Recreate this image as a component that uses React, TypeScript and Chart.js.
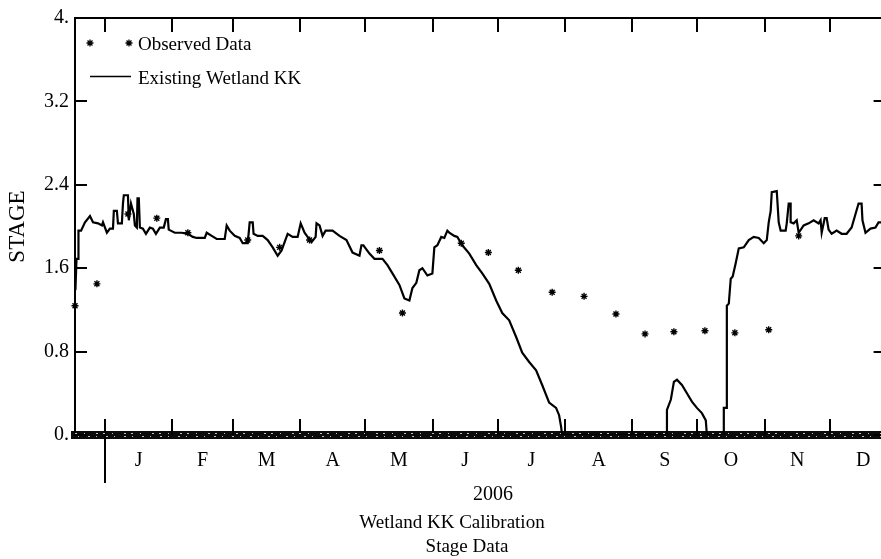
import React, { useEffect, useRef } from "react";
import { Chart, registerables } from "chart.js";

Chart.register(...registerables);

// Days counted from 1 Jan 2006 (day 0)
const LINE_DAYS = [
  -13.6, -13.1, -12.4, -12.2, -11.0, -9.2, -6.9, -5.5, -3.2, -1.4, -0.9, 0.9, 2.3, 3.7, 4.1, 5.5, 6.0, 7.8, 8.3, 8.7,
  10.6, 11.0, 12.0, 13.3, 13.8, 14.7, 15.0, 15.6, 16.1, 17.5, 18.9, 20.7, 22.1, 23.5, 25.3, 27.1, 28.1, 29.0, 29.4, 32.2,
  35.4, 38.2, 40.5, 42.3, 46.0, 46.9, 49.2, 51.5, 55.2, 56.1, 57.5, 59.8, 62.1, 63.5, 65.8, 66.7, 68.1, 68.5, 70.4, 72.7,
  75.0, 77.3, 79.6, 81.4, 82.8, 84.2, 86.5, 88.8, 90.2, 92.0, 93.4, 95.2, 97.1, 97.5, 98.9, 100.3, 101.7, 104.9, 108.1, 111.3,
  114.1, 117.3, 118.2, 119.1, 121.9, 124.2, 127.9, 130.2, 132.5, 135.7, 138.0, 140.3, 141.7, 143.5, 144.9, 146.3, 148.6, 150.9, 151.8, 153.2,
  155.0, 156.4, 157.8, 158.7, 161.0, 162.4, 164.7, 167.9, 171.1, 173.9, 177.1, 180.3, 183.1, 186.3, 189.5, 192.3, 195.5, 198.7, 201.5, 204.7,
  207.9, 209.3, 210.2, 210.7, 259.0, 259.0, 260.8, 262.2, 263.6, 265.9, 268.2, 270.5, 272.8, 275.1, 276.9, 277.4, 285.2, 285.2, 286.6, 286.6,
  287.5, 288.4, 289.3, 290.7, 292.1, 294.4, 296.7, 299.0, 301.3, 303.6, 305.0, 305.9, 306.8, 307.3, 309.6, 310.5, 311.4, 313.7, 314.2, 315.1,
  316.0, 316.0, 317.4, 318.8, 319.7, 322.0, 324.3, 326.6, 328.9, 329.8, 330.3, 331.7, 332.6, 333.5, 334.9, 337.2, 339.5, 341.8, 344.1, 345.9,
  347.3, 348.7, 349.1, 350.5, 352.8, 355.1, 356.5, 359.3,
];
const LINE_STAGE = [
  1.39, 1.69, 1.69, 1.96, 1.96, 2.04, 2.10, 2.04, 2.03, 2.01, 2.04, 1.94, 1.98, 1.98, 2.15, 2.15, 2.03, 2.03, 2.22, 2.30,
  2.30, 2.06, 2.22, 2.12, 2.01, 1.99, 2.27, 2.27, 1.99, 1.98, 1.93, 1.99, 1.98, 1.93, 1.99, 1.99, 2.07, 2.07, 1.97, 1.94,
  1.94, 1.93, 1.90, 1.89, 1.89, 1.94, 1.91, 1.88, 1.88, 2.01, 1.96, 1.91, 1.89, 1.84, 1.84, 2.04, 2.04, 1.93, 1.91, 1.91,
  1.87, 1.80, 1.72, 1.77, 1.85, 1.93, 1.90, 1.90, 2.03, 1.94, 1.90, 1.85, 1.90, 2.03, 2.01, 1.91, 1.96, 1.96, 1.91, 1.87,
  1.75, 1.72, 1.82, 1.82, 1.74, 1.69, 1.69, 1.63, 1.55, 1.44, 1.31, 1.29, 1.41, 1.46, 1.58, 1.60, 1.53, 1.55, 1.80, 1.82,
  1.90, 1.89, 1.96, 1.94, 1.91, 1.90, 1.82, 1.74, 1.63, 1.55, 1.45, 1.29, 1.17, 1.10, 0.94, 0.79, 0.70, 0.62, 0.48, 0.31,
  0.26, 0.19, 0.08, 0.0, 0.0, 0.24, 0.34, 0.51, 0.53, 0.48, 0.40, 0.32, 0.26, 0.21, 0.14, 0.0, 0.0, 0.26, 0.26, 1.24,
  1.26, 1.50, 1.52, 1.65, 1.79, 1.80, 1.87, 1.90, 1.89, 1.84, 1.87, 2.04, 2.15, 2.33, 2.34, 2.04, 1.96, 1.96, 2.03, 2.22,
  2.22, 2.04, 2.03, 2.06, 1.94, 2.01, 2.03, 2.06, 2.03, 2.06, 1.94, 2.08, 2.08, 1.97, 1.93, 1.96, 1.93, 1.93, 1.99, 2.12,
  2.22, 2.22, 2.06, 1.94, 1.98, 1.99, 2.04, 2.04,
];

const OBS_DAYS = [
  -13.8, -3.7, 10.6, 23.9, 38.2, 65.8, 80.5, 94.3, 126.5, 137.1, 164.2, 176.7, 190.5, 206.1, 220.8, 235.5, 248.9, 262.2,
  276.5, 290.3, 305.9, 319.7,
];
const OBS_STAGE = [
  1.24, 1.45, 2.12, 2.08, 1.94, 1.87, 1.80, 1.87, 1.77, 1.17, 1.84, 1.75, 1.58, 1.37, 1.33, 1.16, 0.97, 0.99,
  1.00, 0.98, 1.01, 1.91,
];

const MONTH_STARTS = [0, 31, 59, 90, 120, 151, 181, 212, 243, 273, 304, 334];
const MONTH_MIDS = [15.5, 45, 74.5, 105, 135.5, 166, 196.5, 227.5, 258, 288.5, 319, 349.5];
const MONTH_LABELS = ["J", "F", "M", "A", "M", "J", "J", "A", "S", "O", "N", "D"];
const Y_TICKS = [0, 0.8, 1.6, 2.4, 3.2, 4.0];
const Y_TICK_LABELS = ["0.", "0.8", "1.6", "2.4", "3.2", "4."];

const X_MIN = -13.8;
const X_MAX = 359.3;
const FONT = "'Liberation Serif', 'DejaVu Serif', serif";

function drawStar(ctx: CanvasRenderingContext2D, x: number, y: number, r: number) {
  ctx.beginPath();
  ctx.moveTo(x - r, y);
  ctx.lineTo(x + r, y);
  ctx.moveTo(x, y - r);
  ctx.lineTo(x, y + r);
  const d = r * 0.707;
  ctx.moveTo(x - d, y - d);
  ctx.lineTo(x + d, y + d);
  ctx.moveTo(x - d, y + d);
  ctx.lineTo(x + d, y - d);
  ctx.stroke();
}

const decorPlugin = {
  id: "decor",
  afterDraw(chart: any) {
    const { ctx, chartArea: ca, scales } = chart;
    const xs = scales.x;
    const ys = scales.y;
    ctx.save();
    ctx.strokeStyle = "#000";
    ctx.fillStyle = "#000";
    // top & right frame
    ctx.lineWidth = 2;
    ctx.beginPath();
    ctx.moveTo(ca.left, ca.top);
    ctx.lineTo(ca.right, ca.top);
    ctx.lineTo(ca.right, ca.bottom);
    ctx.stroke();
    // month ticks
    MONTH_STARTS.forEach((d) => {
      const px = Math.round(xs.getPixelForValue(d));
      ctx.beginPath();
      ctx.moveTo(px, ca.bottom);
      ctx.lineTo(px, ca.bottom - 16);
      ctx.moveTo(px, ca.top);
      ctx.lineTo(px, ca.top + 14);
      ctx.stroke();
    });
    // year separator
    const p0 = Math.round(xs.getPixelForValue(0));
    ctx.beginPath();
    ctx.moveTo(p0, ca.bottom);
    ctx.lineTo(p0, ca.bottom + 48);
    ctx.stroke();
    // y ticks
    Y_TICKS.forEach((v) => {
      const py = Math.round(ys.getPixelForValue(v));
      ctx.beginPath();
      ctx.moveTo(ca.left, py);
      ctx.lineTo(ca.left + 12, py);
      ctx.moveTo(ca.right, py);
      ctx.lineTo(ca.right - 11, py);
      ctx.stroke();
    });
    // speckle texture on the bottom band
    ctx.strokeStyle = "rgba(255,255,255,0.75)";
    ctx.lineWidth = 1;
    ctx.setLineDash([2, 7, 1, 11, 2, 5]);
    ctx.beginPath();
    ctx.moveTo(ca.left, ca.bottom - 1.5);
    ctx.lineTo(ca.right, ca.bottom - 1.5);
    ctx.stroke();
    ctx.setLineDash([1, 9, 2, 6]);
    ctx.beginPath();
    ctx.moveTo(ca.left + 3, ca.bottom + 1.5);
    ctx.lineTo(ca.right, ca.bottom + 1.5);
    ctx.stroke();
    ctx.setLineDash([]);
    // legend
    ctx.strokeStyle = "#000";
    ctx.lineWidth = 1.3;
    drawStar(ctx, 90, 43, 3.5);
    drawStar(ctx, 129, 43, 3.5);
    ctx.lineWidth = 1.5;
    ctx.beginPath();
    ctx.moveTo(90, 76.5);
    ctx.lineTo(131, 76.5);
    ctx.stroke();
    ctx.font = `19px ${FONT}`;
    ctx.textAlign = "left";
    ctx.textBaseline = "alphabetic";
    ctx.fillText("Observed Data", 138, 50);
    ctx.fillText("Existing Wetland KK", 138, 84);
    // captions
    ctx.textAlign = "center";
    ctx.font = `20px ${FONT}`;
    ctx.fillText("2006", 493, 500);
    ctx.font = `19px ${FONT}`;
    ctx.fillText("Wetland KK Calibration", 452, 528);
    ctx.fillText("Stage Data", 467, 552);
    ctx.restore();
  },
};

export default function App() {
  const ref = useRef<HTMLCanvasElement | null>(null);
  useEffect(() => {
    document.body.style.margin = "0";
    const canvas = ref.current!;
    const lineData = LINE_DAYS.map((d, i) => ({ x: d, y: LINE_STAGE[i] }));
    const obsData = OBS_DAYS.map((d, i) => ({ x: d, y: OBS_STAGE[i] }));
    const chart = new Chart(canvas, {
      type: "line",
      data: {
        datasets: [
          {
            label: "Observed Data",
            data: obsData,
            showLine: false,
            pointStyle: "star",
            pointRadius: 3.5,
            pointBorderWidth: 1.4,
            borderColor: "#000",
            backgroundColor: "#000",
            clip: false as any,
          },
          {
            label: "Existing Wetland KK",
            data: lineData,
            borderColor: "#000",
            borderWidth: 2.2,
            pointRadius: 0,
            tension: 0,
          },
        ],
      },
      plugins: [decorPlugin],
      options: {
        animation: false,
        responsive: false,
        devicePixelRatio: 1,
        layout: { padding: { left: 0, right: 4, top: 17, bottom: 0 } },
        plugins: { legend: { display: false }, tooltip: { enabled: false }, title: { display: false } },
        scales: {
          x: {
            type: "linear",
            min: X_MIN,
            max: X_MAX,
            afterBuildTicks: (s: any) => {
              s.ticks = MONTH_MIDS.map((v) => ({ value: v }));
            },
            afterFit: (s: any) => {
              s.height = 124;
            },
            ticks: {
              callback: (_v: any, i: number) => MONTH_LABELS[i],
              autoSkip: false,
              maxRotation: 0,
              padding: 14,
              color: "#000",
              font: { family: FONT, size: 20 },
            },
            grid: { display: false, drawTicks: false },
            border: { display: true, width: 8, color: "#0a0a0a" },
          },
          y: {
            min: 0,
            max: 4,
            afterBuildTicks: (s: any) => {
              s.ticks = Y_TICKS.map((v) => ({ value: v }));
            },
            afterFit: (s: any) => {
              s.width = 75;
            },
            ticks: {
              callback: (_v: any, i: number) => Y_TICK_LABELS[i],
              padding: 6,
              color: "#000",
              font: { family: FONT, size: 20 },
            },
            grid: { display: false, drawTicks: false },
            border: { display: true, width: 2, color: "#000" },
            title: { display: true, text: "STAGE", color: "#000", font: { family: FONT, size: 23 } },
          },
        },
      },
    });
    return () => chart.destroy();
  }, []);
  return (
    <div style={{ position: "fixed", left: 0, top: 0, width: 881, height: 559, overflow: "hidden", background: "#fff" }}>
      <canvas ref={ref} width={890} height={559} style={{ display: "block", width: 890, height: 559 }} />
    </div>
  );
}
